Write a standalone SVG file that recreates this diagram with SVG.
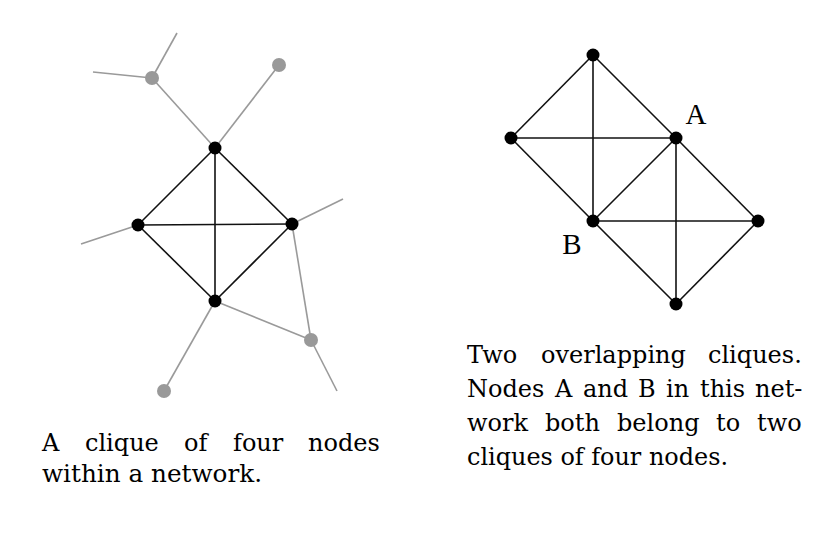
<svg xmlns="http://www.w3.org/2000/svg" width="827" height="534" viewBox="0 0 827 534">
<style>
.bk{stroke:#111;stroke-width:1.6;fill:none}
.gy{stroke:#9a9a9a;stroke-width:1.6;fill:none}
.nb{fill:#000}
.ng{fill:#999}
.cap{font-family:"DejaVu Serif","Liberation Serif",serif;font-size:24px;fill:#000}
.lbl{font-family:"Liberation Serif",serif;font-size:29px;fill:#000}
</style>
<rect width="827" height="534" fill="#fff"/>
<g id="connectors">
  <line class="gy" x1="152" y1="78" x2="177" y2="33"/>
  <line class="gy" x1="152" y1="78" x2="93" y2="72"/>
  <line class="gy" x1="215" y1="148" x2="152" y2="78"/>
  <line class="gy" x1="215" y1="148" x2="279" y2="65"/>
  <line class="gy" x1="138" y1="225" x2="81" y2="244"/>
  <line class="gy" x1="292" y1="224" x2="343" y2="199"/>
  <line class="gy" x1="292" y1="224" x2="311" y2="340"/>
  <line class="gy" x1="215" y1="301" x2="311" y2="340"/>
  <line class="gy" x1="311" y1="340" x2="337" y2="391"/>
  <line class="gy" x1="215" y1="301" x2="164" y2="391"/>
  <line class="bk" x1="215" y1="148" x2="138" y2="225"/>
  <line class="bk" x1="215" y1="148" x2="292" y2="224"/>
  <line class="bk" x1="215" y1="148" x2="215" y2="301"/>
  <line class="bk" x1="138" y1="225" x2="292" y2="224"/>
  <line class="bk" x1="138" y1="225" x2="215" y2="301"/>
  <line class="bk" x1="292" y1="224" x2="215" y2="301"/>
  <line class="bk" x1="593" y1="55" x2="511" y2="138"/>
  <line class="bk" x1="593" y1="55" x2="676" y2="138"/>
  <line class="bk" x1="593" y1="55" x2="593" y2="221"/>
  <line class="bk" x1="511" y1="138" x2="676" y2="138"/>
  <line class="bk" x1="511" y1="138" x2="593" y2="221"/>
  <line class="bk" x1="676" y1="138" x2="593" y2="221"/>
  <line class="bk" x1="676" y1="138" x2="758" y2="221"/>
  <line class="bk" x1="676" y1="138" x2="676" y2="304"/>
  <line class="bk" x1="593" y1="221" x2="758" y2="221"/>
  <line class="bk" x1="593" y1="221" x2="676" y2="304"/>
  <line class="bk" x1="758" y1="221" x2="676" y2="304"/>
</g>
<g id="n-top"><circle class="nb" cx="215" cy="148" r="6.5"/></g>
<g id="n-left"><circle class="nb" cx="138" cy="225" r="6.5"/></g>
<g id="n-right"><circle class="nb" cx="292" cy="224" r="6.5"/></g>
<g id="n-bottom"><circle class="nb" cx="215" cy="301" r="6.5"/></g>
<g id="g1"><circle class="ng" cx="152" cy="78" r="7"/></g>
<g id="g2"><circle class="ng" cx="279" cy="65" r="7"/></g>
<g id="g3"><circle class="ng" cx="311" cy="340" r="7"/></g>
<g id="g4"><circle class="ng" cx="164" cy="391" r="7"/></g>
<g id="r-top"><circle class="nb" cx="593" cy="55" r="6.5"/></g>
<g id="r-left"><circle class="nb" cx="511" cy="138" r="6.5"/></g>
<g id="r-A"><circle class="nb" cx="676" cy="138" r="6.5"/><text class="lbl" x="696" y="124" text-anchor="middle">A</text></g>
<g id="r-B"><circle class="nb" cx="593" cy="221" r="6.5"/><text class="lbl" x="572" y="254" text-anchor="middle">B</text></g>
<g id="r-right"><circle class="nb" cx="758" cy="221" r="6.5"/></g>
<g id="r-bottom"><circle class="nb" cx="676" cy="304" r="6.5"/></g>
<g id="caption-left" class="cap">
  <text y="451"><tspan x="42">A</tspan><tspan x="85">clique</tspan><tspan x="184">of</tspan><tspan x="233">four</tspan><tspan x="308">nodes</tspan></text>
  <text x="42" y="482" textLength="220" lengthAdjust="spacingAndGlyphs">within a network.</text>
</g>
<g id="caption-right" class="cap">
  <text y="363"><tspan x="467">Two</tspan><tspan x="541">overlapping</tspan><tspan x="708">cliques.</tspan></text>
  <text y="397"><tspan x="467">Nodes</tspan><tspan x="555">A</tspan><tspan x="583">and</tspan><tspan x="638">B</tspan><tspan x="666">in</tspan><tspan x="700">this</tspan><tspan x="755">net-</tspan></text>
  <text y="431"><tspan x="467">work</tspan><tspan x="545">both</tspan><tspan x="617">belong</tspan><tspan x="716">to</tspan><tspan x="757">two</tspan></text>
  <text x="467" y="465" textLength="261" lengthAdjust="spacingAndGlyphs">cliques of four nodes.</text>
</g>
</svg>
